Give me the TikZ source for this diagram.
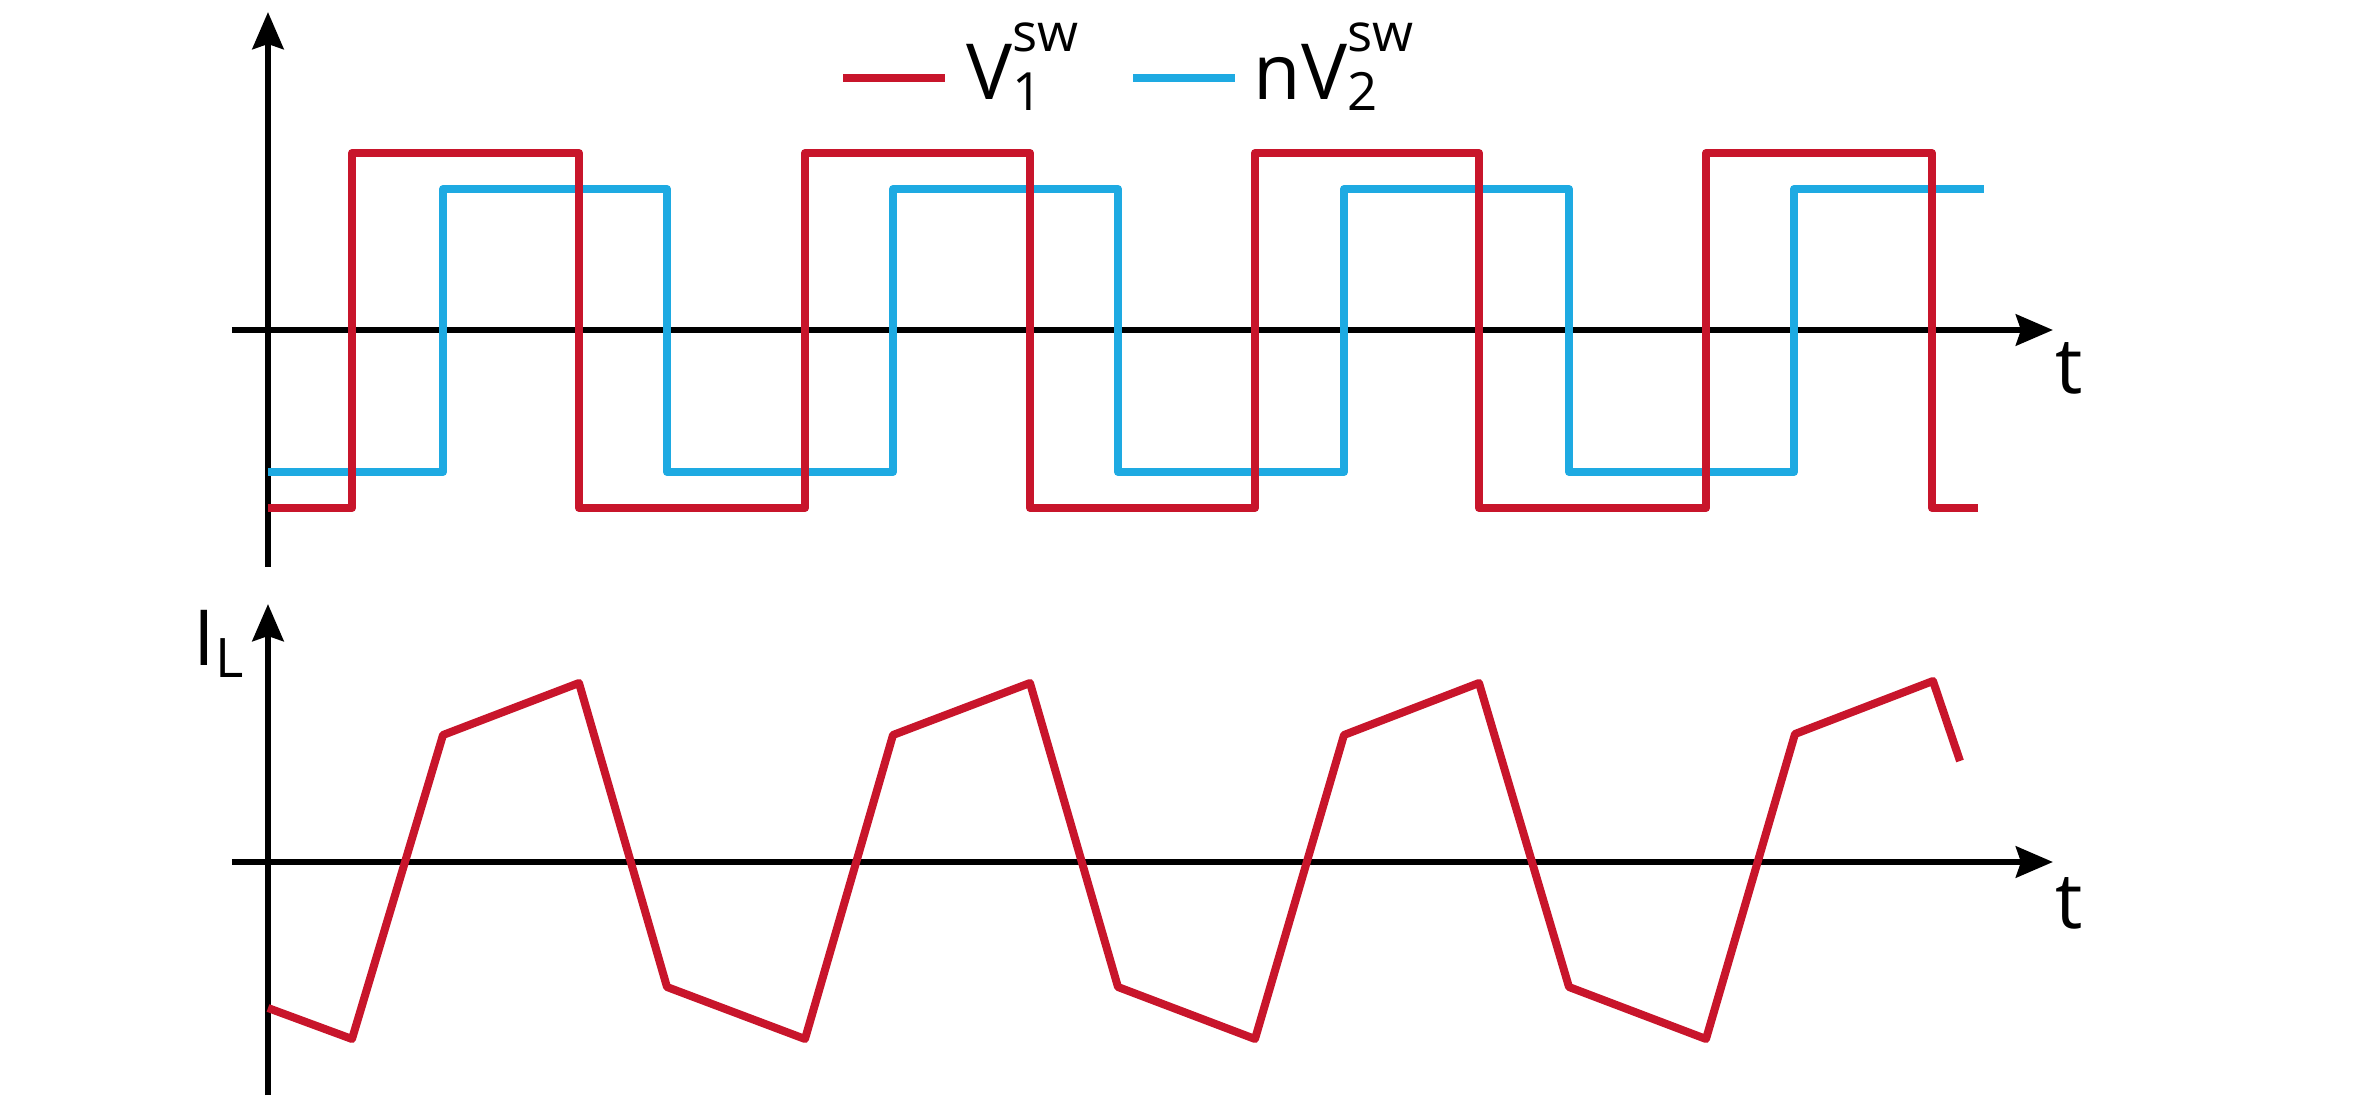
\documentclass[tikz,border=0pt]{standalone}
\usepackage{fontspec}
\setmainfont{Open Sans}
\usepackage{tikz}
\usetikzlibrary{arrows.meta}
\definecolor{swred}{RGB}{200,21,43}
\definecolor{swblue}{RGB}{30,170,226}
\newcommand{\swlab}[2]{#1\rlap{\raisebox{0.48cm}{\fontsize{15}{15}\selectfont sw}}\raisebox{-0.11cm}{\fontsize{15}{15}\selectfont #2}}

\begin{document}
\begin{tikzpicture}[axis/.style={line width=0.065cm, -{Stealth[length=0.37cm, width=0.31cm, inset=0.05cm]}},
  wave/.style={line width=0.08cm, line join=round},
  lbl/.style={inner sep=0pt, anchor=base west, font=\fontsize{22}{26}\selectfont}]
\useasboundingbox (-2.68, -7.87) rectangle (20.95, 3.30);
% switching voltages
\draw [axis] (0, -2.37) -- (0, 3.18);
\draw [axis] (-0.36, 0) -- (17.85, 0);
\draw [wave, color=swblue] (0, -1.42) -| (1.75, 1.41) -| (3.99, -1.42) -| (6.25, 1.41) -| (8.50, -1.42) -| (10.76, 1.41) -| (13.01, -1.42) -| (15.26, 1.41) -- (17.16, 1.41);
\draw [wave, color=swred] (0, -1.78) -| (0.84, 1.77) -| (3.11, -1.78) -| (5.37, 1.77) -| (7.62, -1.78) -| (9.87, 1.77) -| (12.11, -1.78) -| (14.38, 1.77) -| (16.64, -1.78) -- (17.10, -1.78);
\draw [wave, color=swred] (5.75, 2.52) -- (6.77, 2.52);
\draw [wave, color=swblue] (8.65, 2.52) -- (9.67, 2.52);
\node [lbl] (v1) at (6.98, 2.30) {\swlab{V}{1}};
\node [lbl] (v2) at (9.85, 2.30) {\swlab{nV}{2}};
\node [lbl] (t1) at (17.87, -0.64) {t};
% inductor current
\begin{scope}[yshift=-5.32cm]
\draw [axis] (0, -2.33) -- (0, 2.58);
\draw [axis] (-0.36, 0) -- (17.85, 0);
\draw [wave, color=swred] (0, -1.46) -- (0.84, -1.77) -- (1.75, 1.27) -- (3.11, 1.79) -- (3.99, -1.25) -- (5.37, -1.77) -- (6.25, 1.27) -- (7.62, 1.79) -- (8.50, -1.25) -- (9.87, -1.77) -- (10.76, 1.27) -- (12.11, 1.79) -- (13.01, -1.25) -- (14.38, -1.77) -- (15.27, 1.28) -- (16.65, 1.81) -- (16.92, 1.01);
\node [lbl] (il) at (-0.75, 1.97) {I\raisebox{-0.12cm}{\fontsize{15.5}{16}\selectfont L}};
\node [lbl] (t2) at (17.87, -0.66) {t};
\end{scope}
\end{tikzpicture}
\end{document}
